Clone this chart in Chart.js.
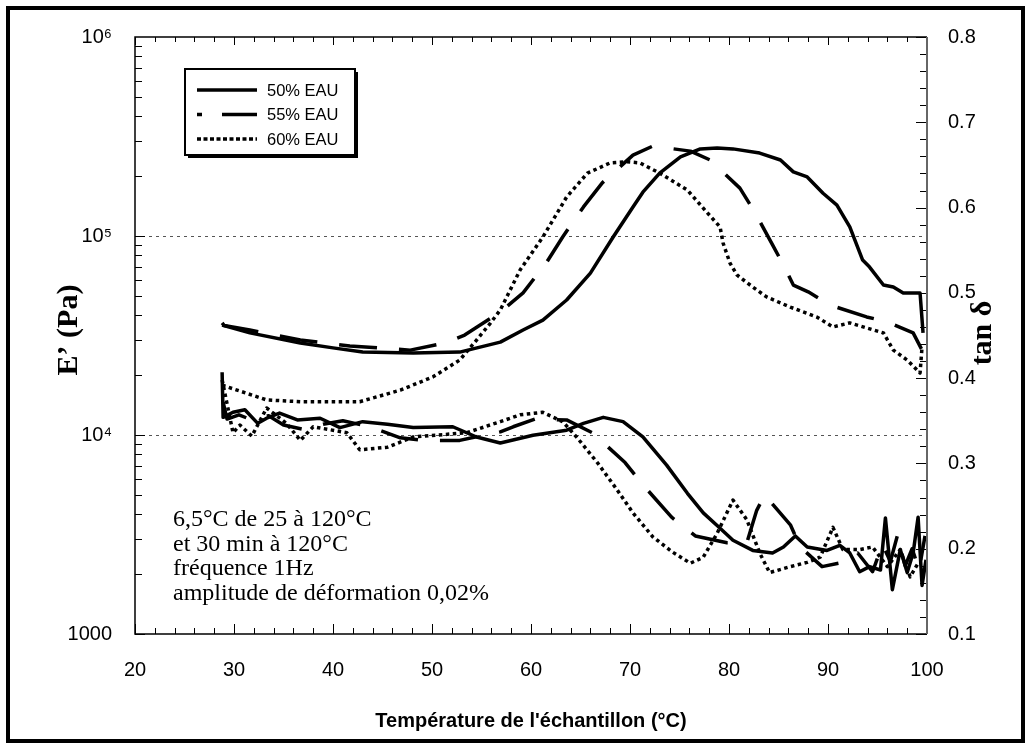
<!DOCTYPE html>
<html lang="fr">
<head>
    <meta charset="UTF-8">
    <title>E' et tan δ</title>
    <script src="https://cdn.jsdelivr.net/npm/chart.js@4"></script>
    <style>
        body { margin: 0; background: #fff; }
        #chart { display: block; }
    </style>
</head>
<body>
<canvas id="chart" width="1031" height="749"></canvas>
<script>
    const seriesNames = ['50% EAU', '55% EAU', '60% EAU'];

    // E' (Pa) - left log axis
    const tempE50 = [28.8, 31.6, 36.7, 40.0, 43.0, 48.1, 52.8, 56.9, 59.2, 61.2, 63.6, 66.0, 68.3, 70.3, 71.3, 73.0, 75.1, 77.1, 78.8, 80.4, 83.1, 85.2, 86.5, 87.9, 89.5, 90.9, 92.2, 93.5, 94.2, 95.6, 96.6, 97.6, 99.3, 99.6];
    const modE50 = [35700, 32600, 29000, 27400, 26100, 25800, 26100, 29300, 33700, 37800, 47700, 65100, 98900, 140000, 166000, 207000, 250000, 274000, 277000, 274000, 261000, 241000, 210000, 198000, 164000, 143000, 111000, 75700, 69800, 56700, 55400, 51700, 51700, 32600];

    const tempE55 = [28.8, 29.0, 31.6, 36.7, 41.7, 47.8, 51.3, 53.3, 56.9, 59.2, 61.6, 63.2, 65.3, 67.2, 70.3, 72.3, 76.1, 78.1, 81.1, 82.6, 84.4, 85.5, 86.5, 88.0, 90.2, 93.9, 96.0, 98.6, 99.5];
    const modE55 = [36600, 35500, 33700, 30000, 28000, 26700, 29000, 31800, 41500, 51800, 74000, 98900, 140000, 185000, 255000, 283000, 267000, 241000, 174000, 132000, 90200, 71400, 56700, 52400, 45000, 39200, 37000, 32600, 26700];

    const tempE60 = [28.8, 33.3, 36.7, 42.7, 46.8, 50.1, 52.8, 54.5, 55.9, 56.9, 58.9, 61.2, 63.6, 65.7, 68.0, 69.7, 71.0, 73.0, 75.8, 77.8, 79.1, 79.4, 80.1, 80.8, 82.4, 83.8, 86.2, 88.9, 90.5, 92.2, 95.6, 96.6, 98.0, 99.3, 99.5];
    const modE60 = [17800, 15000, 14700, 14700, 16800, 19600, 23800, 30000, 36500, 42500, 67500, 98900, 157000, 207000, 233000, 236000, 233000, 207000, 170000, 131000, 111000, 92200, 73100, 63700, 55400, 49400, 43900, 39100, 34900, 36600, 32600, 26700, 23800, 20500, 27700];

    // tan delta - right axis
    const tempT50 = [28.8, 28.9, 29.9, 31.1, 32.4, 33.3, 34.6, 36.4, 38.7, 40.7, 43.0, 45.5, 48.1, 52.1, 54.5, 56.9, 60.2, 63.6, 65.3, 67.3, 69.3, 71.3, 73.7, 75.8, 77.4, 79.1, 80.4, 82.4, 84.4, 85.5, 86.7, 87.9, 89.9, 91.2, 92.2, 93.2, 94.2, 95.3, 95.8, 96.5, 97.3, 98.0, 98.6, 99.1, 99.5, 99.9];
    const tanD50 = [0.407, 0.354, 0.360, 0.363, 0.347, 0.353, 0.359, 0.351, 0.353, 0.342, 0.349, 0.346, 0.342, 0.343, 0.331, 0.324, 0.333, 0.339, 0.347, 0.354, 0.349, 0.331, 0.298, 0.265, 0.242, 0.224, 0.210, 0.198, 0.195, 0.202, 0.215, 0.202, 0.198, 0.204, 0.195, 0.173, 0.179, 0.175, 0.236, 0.152, 0.199, 0.172, 0.195, 0.237, 0.157, 0.187];

    const tempT55 = [28.9, 29.3, 30.5, 32.0, 33.5, 35.0, 37.0, 39.0, 41.0, 43.7, 46.8, 49.1, 52.8, 54.8, 56.9, 58.2, 60.4, 63.6, 66.2, 69.5, 71.3, 74.2, 76.6, 79.8, 81.8, 82.8, 83.6, 86.2, 87.2, 89.4, 91.5, 93.0, 94.5, 95.5, 96.3, 97.0, 97.8, 98.5, 99.2, 99.8];
    const tanD55 = [0.372, 0.352, 0.357, 0.350, 0.356, 0.345, 0.340, 0.346, 0.350, 0.343, 0.330, 0.327, 0.327, 0.332, 0.337, 0.343, 0.352, 0.351, 0.336, 0.301, 0.275, 0.237, 0.215, 0.207, 0.207, 0.245, 0.263, 0.228, 0.202, 0.179, 0.184, 0.195, 0.173, 0.205, 0.185, 0.215, 0.180, 0.200, 0.175, 0.215];

    const tempT60 = [28.8, 29.9, 30.6, 31.8, 33.3, 35.3, 36.7, 38.0, 41.4, 42.7, 45.5, 48.1, 53.5, 56.9, 58.9, 61.2, 63.2, 64.6, 66.7, 68.7, 70.3, 72.3, 74.3, 76.1, 77.4, 78.8, 80.4, 81.8, 83.1, 84.1, 86.2, 87.9, 89.2, 90.5, 91.5, 93.2, 94.5, 96.0, 97.3, 98.3, 99.1];
    const tanD60 = [0.398, 0.336, 0.345, 0.332, 0.365, 0.347, 0.327, 0.343, 0.336, 0.316, 0.319, 0.331, 0.336, 0.349, 0.357, 0.360, 0.349, 0.331, 0.301, 0.269, 0.242, 0.214, 0.196, 0.183, 0.190, 0.218, 0.257, 0.234, 0.195, 0.172, 0.179, 0.184, 0.190, 0.225, 0.199, 0.199, 0.202, 0.179, 0.199, 0.167, 0.183];

    // axis ticks
    const xTickValues = [20, 30, 40, 50, 60, 70, 80, 90, 100];
    const leftTickValues = [1000, 10000, 100000, 1000000];
    const leftTickLabels = ['1000', '10⁴', '10⁵', '10⁶'];
    const rightTickValues = [0.1, 0.2, 0.3, 0.4, 0.5, 0.6, 0.7, 0.8];

    const noteLines = ['6,5°C de 25 à 120°C', 'et 30 min à 120°C', 'fréquence 1Hz', 'amplitude de déformation 0,02%'];

    const sans = "'Liberation Sans', Arial, sans-serif";
    const serif = "'Liberation Serif', 'Times New Roman', serif";
    const dashes = [[], [38, 22], [3.5, 3.5]];

    function pts(xs, ys) {
        return xs.map((x, i) => ({ x: x, y: ys[i] }));
    }

    function line(data, idx, axis) {
        return {
            label: seriesNames[idx],
            data: data,
            yAxisID: axis,
            borderColor: '#000',
            borderWidth: 3.5,
            borderDash: dashes[idx],
            borderCapStyle: 'butt',
            borderJoinStyle: 'round',
            pointRadius: 0,
            tension: 0,
            fill: false
        };
    }

    // ticks, box, legend, notes and titles
    const frame = {
        id: 'frame',
        beforeDatasetsDraw(chart) {
            const ctx = chart.ctx, a = chart.chartArea, y = chart.scales.y;
            ctx.save();
            ctx.strokeStyle = '#555';
            ctx.lineWidth = 1;
            ctx.setLineDash([3, 4]);
            [10000, 100000].forEach(v => {
                const py = Math.round(y.getPixelForValue(v)) + 0.5;
                ctx.beginPath();
                ctx.moveTo(a.left, py);
                ctx.lineTo(a.right, py);
                ctx.stroke();
            });
            ctx.restore();
        },
        afterDraw(chart) {
            const ctx = chart.ctx, a = chart.chartArea;
            const x = chart.scales.x, y = chart.scales.y, y1 = chart.scales.y1;
            ctx.save();

            // ticks
            ctx.strokeStyle = '#000';
            ctx.lineWidth = 1;
            ctx.beginPath();
            for (let t = 20; t <= 100; t += 2) {
                const px = Math.round(x.getPixelForValue(t)) + 0.5;
                const major = t % 10 === 0;
                ctx.moveTo(px, a.bottom); ctx.lineTo(px, a.bottom - (major ? 10 : 6));
                ctx.moveTo(px, a.top); ctx.lineTo(px, a.top + (major ? 8 : 5));
            }
            for (let e = 3; e < 6; e++) {
                for (let m = 1; m < 10; m++) {
                    const py = Math.round(y.getPixelForValue(m * Math.pow(10, e))) + 0.5;
                    ctx.moveTo(a.left, py); ctx.lineTo(a.left + (m === 1 ? 10 : 7), py);
                }
            }
            for (let k = 5; k <= 40; k++) {
                const py = Math.round(y1.getPixelForValue(k / 50)) + 0.5;
                ctx.moveTo(a.right, py); ctx.lineTo(a.right - (k % 5 === 0 ? 11 : 7), py);
            }
            ctx.stroke();

            // plot box
            ctx.lineWidth = 1.5;
            ctx.beginPath();
            ctx.moveTo(a.right, a.top);
            ctx.lineTo(a.left, a.top);
            ctx.lineTo(a.left, a.bottom);
            ctx.lineTo(a.right, a.bottom);
            ctx.stroke();
            ctx.strokeStyle = '#666';
            ctx.lineWidth = 2;
            ctx.beginPath();
            ctx.moveTo(a.right, a.top);
            ctx.lineTo(a.right, a.bottom);
            ctx.stroke();

            // legend
            const lx = 185, ly = 69, lw = 170, lh = 86;
            ctx.fillStyle = '#000';
            ctx.fillRect(lx + 3, ly + 3, lw, lh);
            ctx.fillStyle = '#fff';
            ctx.fillRect(lx, ly, lw, lh);
            ctx.strokeStyle = '#000';
            ctx.lineWidth = 2;
            ctx.strokeRect(lx, ly, lw, lh);
            const rows = [90, 114.5, 139];
            ctx.lineWidth = 3.5;
            ctx.lineCap = 'butt';
            rows.forEach((ry, i) => {
                ctx.beginPath();
                if (i === 1) {
                    ctx.setLineDash([]);
                    ctx.moveTo(197, ry); ctx.lineTo(202, ry);
                    ctx.moveTo(222, ry); ctx.lineTo(257, ry);
                } else {
                    ctx.setLineDash(i === 2 ? [4, 2.5] : []);
                    ctx.moveTo(197, ry); ctx.lineTo(257, ry);
                }
                ctx.stroke();
            });
            ctx.setLineDash([]);
            ctx.fillStyle = '#000';
            ctx.font = '16.5px ' + sans;
            ctx.textBaseline = 'middle';
            ctx.textAlign = 'left';
            rows.forEach((ry, i) => ctx.fillText(seriesNames[i], 267, ry + 1));

            // notes
            ctx.font = '24px ' + serif;
            ctx.textBaseline = 'alphabetic';
            noteLines.forEach((s, i) => ctx.fillText(s, 173, 526 + i * 24.7));

            // axis titles
            ctx.textAlign = 'center';
            ctx.textBaseline = 'middle';
            ctx.font = 'bold 20px ' + sans;
            ctx.fillText("Température de l'échantillon (°C)", (a.left + a.right) / 2, 721);
            ctx.font = 'bold 30px ' + serif;
            ctx.save();
            ctx.translate(69, 330);
            ctx.rotate(-Math.PI / 2);
            ctx.fillText('E’ (Pa)', 0, 0);
            ctx.restore();
            ctx.save();
            ctx.translate(983, 333);
            ctx.rotate(-Math.PI / 2);
            ctx.fillText('tan δ', 0, 0);
            ctx.restore();

            // outer frame
            ctx.lineWidth = 4;
            ctx.strokeStyle = '#000';
            ctx.strokeRect(8, 8, chart.width - 16, chart.height - 16);
            ctx.restore();
        }
    };

    const tickFont = { family: sans, size: 20 };

    new Chart(document.getElementById('chart'), {
        type: 'line',
        data: {
            datasets: [
                line(pts(tempE50, modE50), 0, 'y'),
                line(pts(tempE55, modE55), 1, 'y'),
                line(pts(tempE60, modE60), 2, 'y'),
                line(pts(tempT50, tanD50), 0, 'y1'),
                line(pts(tempT55, tanD55), 1, 'y1'),
                line(pts(tempT60, tanD60), 2, 'y1')
            ]
        },
        options: {
            responsive: false,
            devicePixelRatio: 1,
            animation: false,
            layout: { padding: { top: 37, left: 0, right: 0, bottom: 0 } },
            plugins: {
                legend: { display: false },
                tooltip: { enabled: false }
            },
            scales: {
                x: {
                    type: 'linear',
                    position: 'bottom',
                    min: 20,
                    max: 100,
                    afterFit: s => { s.height = 115; },
                    afterBuildTicks: s => { s.ticks = xTickValues.map(v => ({ value: v })); },
                    ticks: { font: tickFont, color: '#000', padding: 24, autoSkip: false, maxRotation: 0 },
                    grid: { display: false, drawTicks: false },
                    border: { display: false }
                },
                y: {
                    type: 'logarithmic',
                    position: 'left',
                    min: 1000,
                    max: 1000000,
                    afterFit: s => { s.width = 135; },
                    afterBuildTicks: s => { s.ticks = leftTickValues.map(v => ({ value: v })); },
                    ticks: {
                        font: tickFont,
                        color: '#000',
                        padding: 23,
                        autoSkip: false,
                        callback: v => leftTickLabels[leftTickValues.indexOf(v)]
                    },
                    grid: { display: false, drawTicks: false },
                    border: { display: false }
                },
                y1: {
                    type: 'linear',
                    position: 'right',
                    min: 0.1,
                    max: 0.8,
                    afterFit: s => { s.width = 104; },
                    afterBuildTicks: s => { s.ticks = rightTickValues.map(v => ({ value: v })); },
                    ticks: {
                        font: tickFont,
                        color: '#000',
                        padding: 21,
                        autoSkip: false,
                        callback: v => v.toFixed(1)
                    },
                    grid: { display: false, drawTicks: false },
                    border: { display: false }
                }
            }
        },
        plugins: [frame]
    });
</script>
</body>
</html>
